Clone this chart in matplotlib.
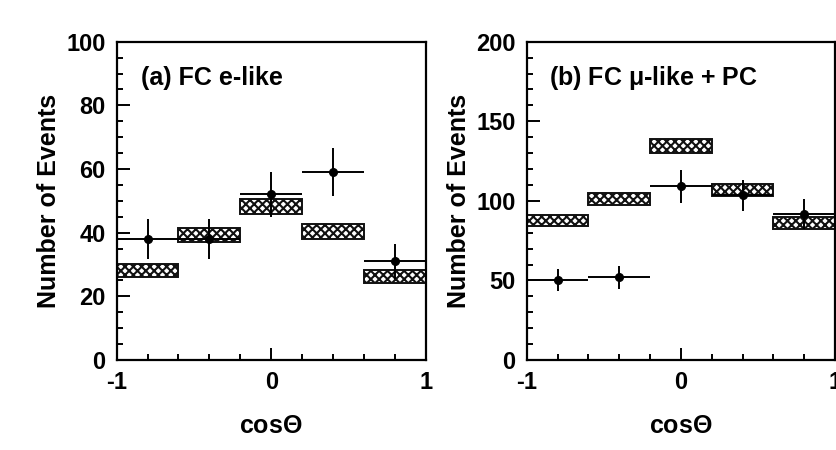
import matplotlib
matplotlib.use('Agg')
import matplotlib.pyplot as plt
from matplotlib.ticker import MultipleLocator
import numpy as np

# ---- data ----
bin_edges = [-1.0, -0.6, -0.2, 0.2, 0.6, 1.0]

a_title = "(a) FC e-like"
a_data = [38, 38, 52, 59, 31]
a_err = [6.2, 6.2, 7.0, 7.6, 5.6]
a_mc = [28.2, 39.3, 48.2, 40.3, 26.3]
a_mc_half = [2.0, 2.1, 2.4, 2.3, 2.0]

b_title = "(b) FC $\\mathregular{\\mu}$-like + PC"
b_data = [50.4, 52.1, 109.2, 103.4, 91.8]
b_err = [7.0, 7.2, 10.5, 9.8, 9.4]
b_mc = [87.6, 101.4, 134.2, 107.1, 86.1]
b_mc_half = [3.6, 3.7, 4.4, 3.8, 3.6]

plt.rcParams['font.family'] = ['Liberation Sans', 'DejaVu Sans']
plt.rcParams['font.weight'] = 'bold'
plt.rcParams['hatch.linewidth'] = 1.5
plt.rcParams['mathtext.fontset'] = 'custom'
plt.rcParams['mathtext.rm'] = 'DejaVu Sans'

fig = plt.figure(figsize=(8.37, 4.5), dpi=100)
axA = fig.add_axes([0.1394, 0.2, 0.3692, 0.7073])
axB = fig.add_axes([0.6293, 0.2, 0.3683, 0.7073])

edges = np.array(bin_edges)
centers = (edges[:-1] + edges[1:]) / 2
halfw = (edges[1:] - edges[:-1]) / 2


def draw(ax, data, err, mc, mc_half, ymax, ymajor, yminor, title, tx):
    mc = np.array(mc)
    mh = np.array(mc_half)
    ax.bar(centers, 2 * mh, bottom=mc - mh, width=2 * halfw, facecolor='white',
           edgecolor='#111111', hatch='xxxx', linewidth=1.4, zorder=2)
    ax.errorbar(centers, data, yerr=err, xerr=halfw, fmt='o', color='black',
                markersize=5.5, elinewidth=1.4, capsize=0, zorder=3)
    ax.set_xlim(-1, 1)
    ax.set_ylim(0, ymax)
    ax.xaxis.set_major_locator(MultipleLocator(1))
    ax.xaxis.set_minor_locator(MultipleLocator(0.2))
    ax.yaxis.set_major_locator(MultipleLocator(ymajor))
    ax.yaxis.set_minor_locator(MultipleLocator(yminor))
    ax.tick_params(which='both', direction='in', top=False, right=False,
                   width=1.4, labelsize=17)
    ax.tick_params(which='major', length=9, pad=8)
    ax.tick_params(which='minor', length=4.5)
    for s in ax.spines.values():
        s.set_linewidth(1.6)
    ax.set_xticks([-1, 0, 1])
    ax.set_xticklabels(['-1', '0', '1'], fontweight='bold')
    for lab in ax.get_yticklabels():
        lab.set_fontweight('bold')
    ax.set_ylabel('Number of Events', fontsize=18, fontweight='bold', labelpad=4)
    ax.set_xlabel('cos$\\mathregular{\\Theta}$', fontsize=18, fontweight='bold', labelpad=14)
    ax.text(tx, 0.885, title, transform=ax.transAxes, fontsize=18,
            fontweight='bold', va='center', ha='left')


draw(axA, a_data, a_err, a_mc, a_mc_half, 100, 20, 5, a_title, 0.08)
draw(axB, b_data, b_err, b_mc, b_mc_half, 200, 50, 10, b_title, 0.072)

fig.savefig('out.png', dpi=100)
